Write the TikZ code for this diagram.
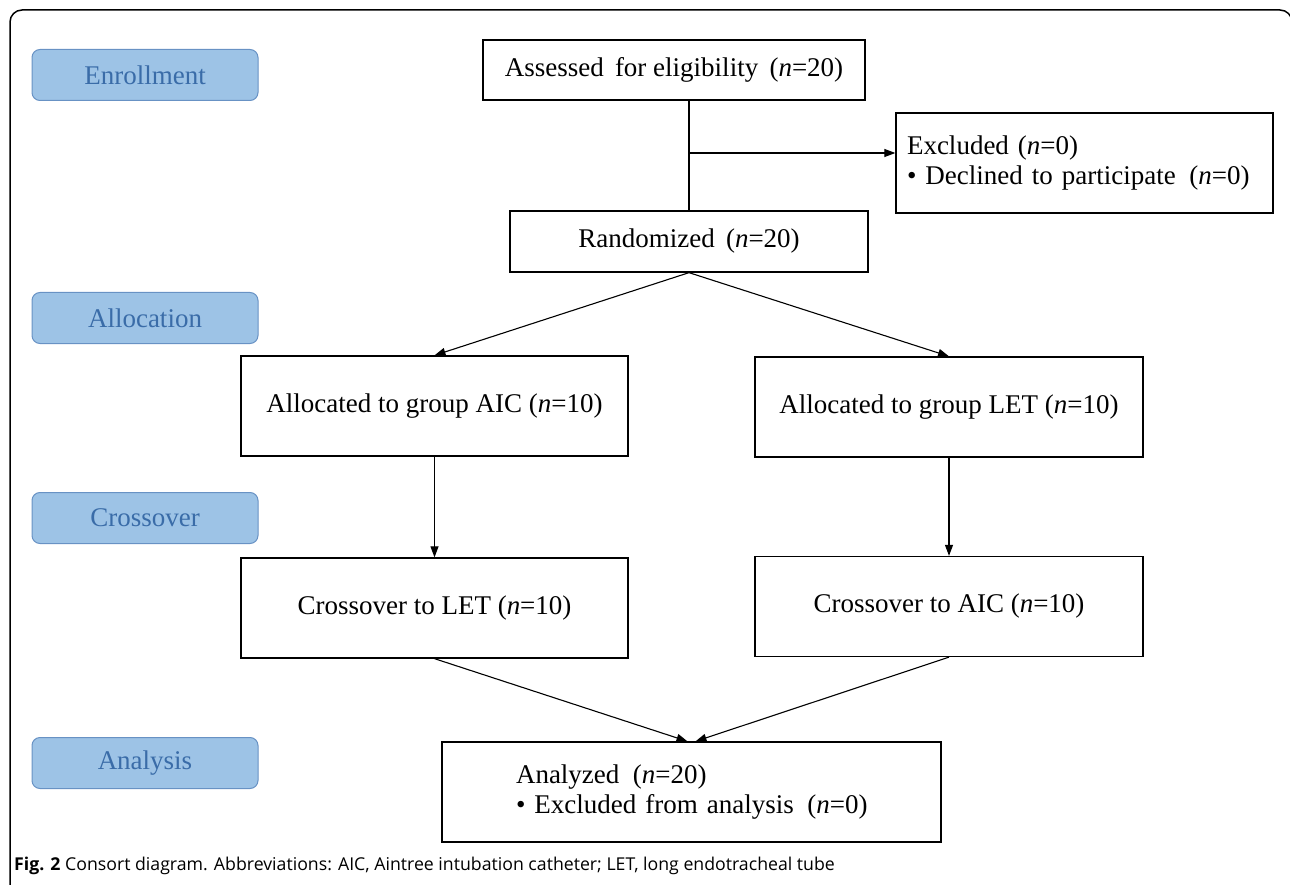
\documentclass[tikz,border=0pt]{standalone}
\usepackage{fontspec}
\setmainfont{Liberation Serif}
\newfontfamily\captionfont{Open Sans}
\usetikzlibrary{arrows.meta}
\definecolor{phasefill}{RGB}{157,195,230}
\definecolor{phaseline}{RGB}{104,146,196}
\definecolor{phasetext}{RGB}{58,108,168}
\tikzset{
    phase/.style={draw=phaseline, fill=phasefill, text=phasetext, rounded corners=8pt,
        minimum width=226pt, minimum height=51pt, line width=1pt},
    box/.style={draw, line width=1.3pt, minimum height=100pt, inner sep=0pt},
    flow/.style={-{Triangle[length=11pt, width=8pt]}, line width=1.1pt},
}

\begin{document}
\begin{tikzpicture}[x=1pt, y=-1pt, font=\fontsize{27}{30}\selectfont]
        \useasboundingbox (0,0) rectangle (1290,885);
        % frame
        \draw[line width=1.5pt, rounded corners=12pt] (10,885) -- (10,10) -- (1292,10) -- (1292,885);
        % phases
        \foreach \name/\y/\txt in {enroll/75/Enrollment, alloc/318/Allocation,
            cross/518/Crossover, analysis/763/Analysis}
        {
            \node[phase] (\name) at (145,\y) {\txt};
        }
        % boxes
        \node[box, minimum width=382pt, minimum height=60pt] (assessed) at (674,70)
            {Assessed\ \,for eligibility\ \,(\textit{n}=20)};
        \node[box, minimum width=377pt, text width=355pt, align=left] (excluded) at (1084.5,163)
            {Excluded (\textit{n}=0)\\ • Declined to participate\ \,(\textit{n}=0)};
        \node[box, minimum width=358pt, minimum height=61pt] (rand) at (689,241.5)
            {Randomized\ \,(\textit{n}=20)};
        \node[box, minimum width=387pt] (allocAIC) at (434.5,406)
            {Allocated to group AIC (\textit{n}=10)};
        \node[box, minimum width=388pt] (allocLET) at (949,407)
            {Allocated to group LET (\textit{n}=10)};
        \node[box, minimum width=387pt] (crossLET) at (434.5,608)
            {Crossover to LET (\textit{n}=10)};
        \node[box, minimum width=388pt] (crossAIC) at (949,606.5)
            {Crossover to AIC (\textit{n}=10)};
        \node[box, minimum width=499pt, text width=351pt, align=left] (analyzed) at (691.5,792)
            {\mbox{Analyzed\ \,(\textit{n}=20)}\\ \mbox{• Excluded from analysis\ \,(\textit{n}=0)}};
        % caption
        \node[anchor=west, inner sep=0pt, font=\captionfont\fontsize{17.7}{21}\selectfont] (caption) at (14,866)
            {\textbf{Fig. 2} Consort diagram. Abbreviations: AIC, Aintree intubation catheter; LET, long endotracheal tube};
        % coordinates
        \coordinate (split) at (690,153);
        % arrows
        \draw[line width=1.1pt] (rand.north |- assessed.south) -- (rand.north);
        \draw[flow] (split) -- (split -| excluded.west);
        \draw[flow] (rand.south) -- (allocAIC.north);
        \draw[flow] (rand.south) -- (allocLET.north);
        \draw[flow] (allocAIC.south) -- (crossLET.north);
        \draw[flow] (allocLET.south) -- (crossAIC.north);
        \draw[flow] (crossLET.south) -- ([xshift=-4pt]analyzed.north);
        \draw[flow] (crossAIC.south) -- ([xshift=4pt]analyzed.north);
    \end{tikzpicture}
\end{document}
